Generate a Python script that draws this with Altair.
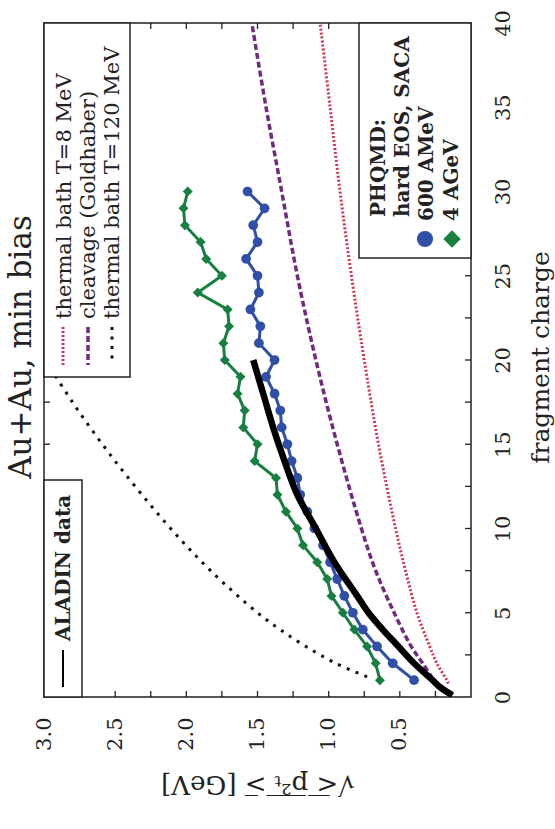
import altair as alt
import pandas as pd

# ---- data -------------------------------------------------------------
# PHQMD (hard EOS, SACA) mean transverse momentum vs fragment charge
charge_sim = list(range(1, 31))
pt_600amev = [0.40, 0.55, 0.66, 0.76, 0.83, 0.89, 0.94, 0.99, 1.04, 1.10,
              1.15, 1.20, 1.22, 1.26, 1.29, 1.33, 1.34, 1.38, 1.44, 1.38,
              1.49, 1.48, 1.55, 1.49, 1.50, 1.58, 1.50, 1.53, 1.45, 1.57]
pt_4agev = [0.64, 0.67, 0.73, 0.82, 0.90, 0.98, 1.01, 1.08, 1.18, 1.22,
            1.30, 1.36, 1.37, 1.52, 1.50, 1.60, 1.59, 1.64, 1.62, 1.73,
            1.74, 1.70, 1.71, 1.92, 1.75, 1.86, 1.90, 2.01, 2.02, 1.99]

# ALADIN data
charge_aladin = [0.1, 0.6, 1, 2, 3, 4, 5, 6, 8, 10, 12, 14, 16, 18, 20]
pt_aladin = [0.13, 0.22, 0.27, 0.40, 0.51, 0.62, 0.72, 0.80, 0.96, 1.09,
             1.22, 1.31, 1.39, 1.46, 1.53]

# thermal bath T=8 MeV
charge_t8 = [0.8, 1, 2, 3, 5, 7.5, 10, 15, 20, 25, 30, 35, 40]
pt_t8 = [0.16, 0.17, 0.24, 0.29, 0.38, 0.46, 0.53, 0.65, 0.75, 0.84, 0.92, 0.99, 1.06]

# cleavage (Goldhaber)
charge_gold = [1.1, 2, 3, 5, 7.5, 10, 15, 20, 25, 30, 35, 40]
pt_gold = [0.27, 0.34, 0.42, 0.54, 0.67, 0.77, 0.94, 1.09, 1.22, 1.33, 1.44, 1.54]

# thermal bath T=120 MeV
charge_t120 = [1.2, 2, 3, 4, 5, 7.5, 10, 12.5, 15, 17.5, 20]
pt_t120 = [0.73, 0.95, 1.16, 1.34, 1.50, 1.83, 2.11, 2.36, 2.59, 2.80, 2.99]

x_labels = [0.5, 1.0, 1.5, 2.0, 2.5, 3.0]
x_ticks = [0.25 * i for i in range(1, 12)]
y_labels = list(range(0, 45, 5))
y_ticks = [2.5 * i for i in range(1, 16)]

legend_curves = ["thermal bath T=8 MeV", "cleavage (Goldhaber)", "thermal bath T=120 MeV"]
legend_sim = ["PHQMD:", "hard EOS, SACA", "600 AMeV", "4 AGeV"]

# ---- style ------------------------------------------------------------
FONT = "DejaVu Serif"
W, H = 427, 674
RED, PURPLE, BLUE, GREEN = "#cf3450", "#6e2c7e", "#2f4fa8", "#178040"

sqrt_title = "√" + "".join(c + "\u0305" for c in "< p²ₜ >") + " [GeV]"

X = alt.X(
    "pt:Q",
    scale=alt.Scale(domain=[0, 3], reverse=True),
    axis=alt.Axis(
        orient="bottom", values=x_labels, format=".1f",
        labelAngle=270, labelAlign="right", labelBaseline="middle",
        labelPadding=20, labelFont=FONT, labelFontSize=21, labelColor="#222",
        labelFlush=False, labelOverlap=False,
        ticks=False, domain=False, grid=False,
        title=sqrt_title, titleAngle=180, titleX=W / 2, titleY=86,
        titleAlign="center", titleBaseline="middle",
        titleFont=FONT, titleFontSize=26, titleFontWeight="normal", titleColor="#222",
    ),
)
Y = alt.Y(
    "z:Q",
    scale=alt.Scale(domain=[0, 40]),
    axis=alt.Axis(
        orient="right", values=y_labels,
        labelAngle=270, labelAlign="center", labelBaseline="top",
        labelPadding=21, labelFont=FONT, labelFontSize=21, labelColor="#222",
        labelFlush=False, labelOverlap=False,
        ticks=False, domain=False, grid=False,
        title="fragment charge", titleAngle=270, titleX=69, titleY=334,
        titleAlign="center", titleBaseline="middle",
        titleFont=FONT, titleFontSize=25, titleFontWeight="normal", titleColor="#222",
    ),
)


def frame(z, pt):
    return pd.DataFrame({"z": z, "pt": pt})


def curve(z, pt, color, width, dash=None, interp="catmull-rom"):
    kw = dict(color=color, strokeWidth=width, interpolate=interp, clip=True)
    if dash:
        kw["strokeDash"] = dash
    return alt.Chart(frame(z, pt)).mark_line(**kw).encode(x=X, y=Y, order="z:Q")


one = pd.DataFrame({"k": [0]})

t8 = curve(charge_t8, pt_t8, RED, 3, [2, 2])
gold = curve(charge_gold, pt_gold, PURPLE, 3.5, [6, 3])
t120 = curve(charge_t120, pt_t120, "#111", 3, [3, 6.5])

green_line = curve(charge_sim, pt_4agev, GREEN, 3, interp="linear")
green_pts = alt.Chart(frame(charge_sim, pt_4agev)).mark_point(
    shape="diamond", filled=True, size=100, color=GREEN, opacity=1
).encode(x=X, y=Y)
blue_line = curve(charge_sim, pt_600amev, BLUE, 3, interp="linear")
blue_pts = alt.Chart(frame(charge_sim, pt_600amev)).mark_point(
    shape="circle", filled=True, size=95, color=BLUE, opacity=1
).encode(x=X, y=Y)
aladin = curve(charge_aladin, pt_aladin, "#000", 6.5)

# inward tick marks on all four sides
tick_style = dict(color="#222", strokeWidth=1.3)
xt = pd.DataFrame({"pt": x_ticks})
yt = pd.DataFrame({"z": y_ticks})
ticks = [
    alt.Chart(xt).mark_rule(**tick_style).encode(x=X, y=alt.value(H), y2=alt.value(H - 6)),
    alt.Chart(xt).mark_rule(**tick_style).encode(x=X, y=alt.value(0), y2=alt.value(6)),
    alt.Chart(yt).mark_rule(**tick_style).encode(y=Y, x=alt.value(0), x2=alt.value(6)),
    alt.Chart(yt).mark_rule(**tick_style).encode(y=Y, x=alt.value(W), x2=alt.value(W - 6)),
]


def box(x0, x1, y0, y1):
    return alt.Chart(one).mark_rect(fill="white", stroke="#222", strokeWidth=1.5).encode(
        x=alt.value(x0), x2=alt.value(x1), y=alt.value(y0), y2=alt.value(y1)
    )


def vtext(txt, x, y, size=21, weight="normal", align="left"):
    return alt.Chart(one).mark_text(
        text=txt, angle=270, align=align, baseline="middle",
        font=FONT, fontSize=size, fontWeight=weight, color="#222",
    ).encode(x=alt.value(x), y=alt.value(y))


def vrule(x, y0, y1, color, width, dash=None):
    kw = dict(color=color, strokeWidth=width)
    if dash:
        kw["strokeDash"] = dash
    return alt.Chart(one).mark_rule(**kw).encode(
        x=alt.value(x), y=alt.value(y0), y2=alt.value(y1)
    )


legend_a = [
    box(0, 86, 0, 354),
    vrule(19, 304, 342, RED, 3, [2, 2]),
    vrule(44, 304, 342, PURPLE, 3.5, [6, 3]),
    vrule(68, 304, 342, "#111", 3, [3, 6.5]),
    vtext(legend_curves[0], 21, 296),
    vtext(legend_curves[1], 45, 296),
    vtext(legend_curves[2], 69, 296),
]

legend_b = [
    box(0, 38, 457, H),
    vrule(19, 627, 664, "#000", 2),
    vtext("ALADIN data", 20, 618, size=20, weight="bold"),
]

legend_c = [
    box(315, W, 0, 235),
    vtext(legend_sim[0], 335, 194, size=20, weight="bold"),
    vtext(legend_sim[1], 359, 194, size=20, weight="bold"),
    vtext(legend_sim[2], 383, 198, size=20, weight="bold"),
    vtext(legend_sim[3], 408, 198, size=20, weight="bold"),
    alt.Chart(one).mark_point(shape="circle", filled=True, size=260, color=BLUE, opacity=1)
    .encode(x=alt.value(381), y=alt.value(216)),
    alt.Chart(one).mark_point(shape="diamond", filled=True, size=300, color=GREEN, opacity=1)
    .encode(x=alt.value(408), y=alt.value(216)),
]

title = alt.Chart(one).mark_text(
    text="Au+Au, min bias", angle=270, align="center", baseline="middle",
    font=FONT, fontSize=31, color="#222",
).encode(x=alt.value(-22), y=alt.value(324))

chart = alt.layer(
    t8, gold, t120, green_line, green_pts, blue_line, blue_pts, aladin,
    *ticks, *legend_a, *legend_b, *legend_c, title,
).properties(
    width=W, height=H,
    autosize=alt.AutoSizeParams(type="none"),
    padding={"left": 44, "top": 23, "right": 84, "bottom": 132},
).configure_view(stroke="#222", strokeWidth=1.5)

chart.save("out.html", embed_options={"renderer": "svg", "actions": False})
